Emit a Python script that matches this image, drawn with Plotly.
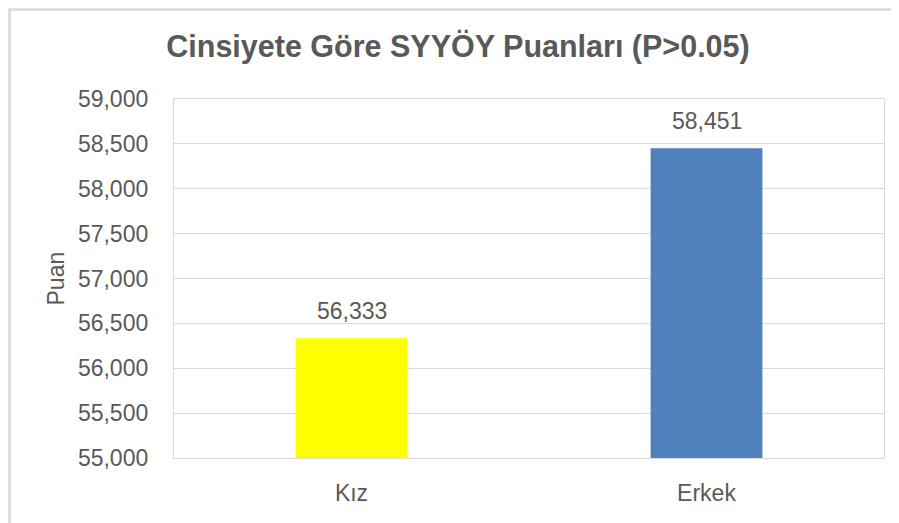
import plotly.graph_objects as go

# data
categories = ["Kız", "Erkek"]
scores = [56.333, 58.451]
bar_colors = ["#FFFF00", "#4F81BD"]

FONT = "Liberation Sans, Arial, sans-serif"
GREY = "#595959"

fig = go.Figure()
fig.add_trace(go.Bar(
    x=categories,
    y=scores,
    marker=dict(color=bar_colors, line=dict(width=0)),
    hoverinfo="x+y",
))

# value labels above bars
for c, v in zip(categories, scores):
    fig.add_annotation(x=c, y=v, text=f"{v:.3f}".replace(".", ","),
                       showarrow=False, yanchor="bottom", yshift=12,
                       font=dict(family=FONT, size=23, color=GREY))

# the page body adds ~8px around the figure, so layout numbers are shifted by 8
fig.update_layout(
    width=899, height=523,
    paper_bgcolor="white", plot_bgcolor="white",
    margin=dict(l=166, r=23, t=91, b=73, autoexpand=False),
    separators=",.",
    bargap=0.685,
    showlegend=False,
    title=dict(
        text="<b>Cinsiyete Göre SYYÖY Puanları (P>0.05)</b>",
        x=450 / 899, xanchor="center", y=1 - 38 / 523, yanchor="middle",
        font=dict(family=FONT, size=30.5, color=GREY),
    ),
    font=dict(family=FONT, color=GREY),
)
fig.update_yaxes(
    range=[55, 59], dtick=0.5, tickformat=".3f",
    showgrid=True, gridcolor="#D9D9D9", gridwidth=1.3,
    showline=True, linecolor="#D9D9D9", linewidth=1.3, mirror=True,
    zeroline=False, ticks="", ticklabelstandoff=20, automargin=False,
    tickfont=dict(family=FONT, size=23, color=GREY),
)
fig.update_xaxes(
    showline=True, linecolor="#D9D9D9", linewidth=1.3, mirror=True,
    ticks="", ticklabelstandoff=14, automargin=False,
    tickfont=dict(family=FONT, size=23, color=GREY),
)

# y axis title
fig.add_annotation(xref="paper", yref="paper", x=(47 - 166) / 710, y=0.5,
                   text="Puan", textangle=-90, showarrow=False,
                   xanchor="center", yanchor="middle",
                   font=dict(family=FONT, size=23, color=GREY))

# outer chart border
fig.add_shape(type="rect", xref="paper", yref="paper",
              x0=(1.5 - 166) / 710, x1=1.1, y0=-0.3, y1=1 + (91 - 1.5) / 359,
              line=dict(color="#D9D9D9", width=2.5), layer="below")

fig.write_html("out.html")
